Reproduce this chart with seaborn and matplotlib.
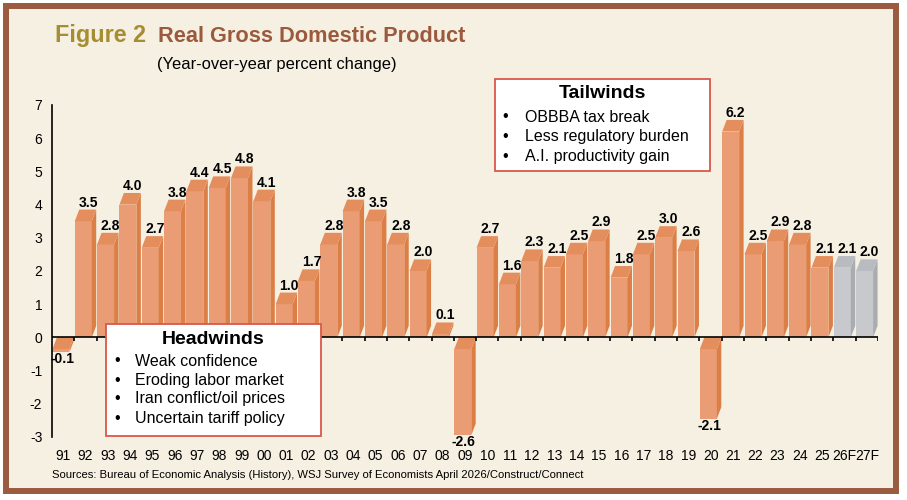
import numpy as np
import pandas as pd
import seaborn as sns
import matplotlib.pyplot as plt
from matplotlib.patches import Rectangle, Polygon

# chart data
years = ['91', '92', '93', '94', '95', '96', '97', '98', '99', '00',
         '01', '02', '03', '04', '05', '06', '07', '08', '09', '10',
         '11', '12', '13', '14', '15', '16', '17', '18', '19', '20',
         '21', '22', '23', '24', '25', '26F', '27F']
gdp = [-0.1, 3.5, 2.8, 4.0, 2.7, 3.8, 4.4, 4.5, 4.8, 4.1,
       1.0, 1.7, 2.8, 3.8, 3.5, 2.8, 2.0, 0.1, -2.6, 2.7,
       1.6, 2.3, 2.1, 2.5, 2.9, 1.8, 2.5, 3.0, 2.6, -2.1,
       6.2, 2.5, 2.9, 2.8, 2.1, 2.1, 2.0]
forecast = ['26F', '27F']
yticks = list(range(-3, 8))

headwinds = ['Weak confidence', 'Eroding labor market',
             'Iran conflict/oil prices', 'Uncertain tariff policy']
tailwinds = ['OBBBA tax break', 'Less regulatory burden', 'A.I. productivity gain']
source_note = ('Sources: Bureau of Economic Analysis (History), '
               'WSJ Survey of Economists April 2026/Construct/Connect')

# colours
BG = '#F5F0E2'
FRAME = '#9A5B40'
GOLD = '#A68D32'
TITLE_BROWN = '#9B5A3D'
BOX_EDGE = '#D9584B'
ORANGE = {'front': '#EA9D74', 'side': '#DC7F47', 'top': '#E48E5D'}
GRAY = {'front': '#C7C9CC', 'side': '#A9ACB0', 'top': '#B8BBBF'}

sns.set_theme(style='white')
plt.rcParams['font.family'] = ['Liberation Sans', 'DejaVu Sans']

W, H = 907, 500
fig = plt.figure(figsize=(W / 100, H / 100), dpi=100)
fig.patch.set_facecolor('white')


def fx(px):
    return px / W


def fy(py):
    return 1 - py / H


# beige panel with brown frame
fig.patches.append(Rectangle((fx(6), fy(491)), fx(896) - fx(6), fy(6) - fy(491),
                             transform=fig.transFigure, fc=BG, ec=FRAME,
                             lw=4.3, zorder=-1))

ax = fig.add_axes([fx(52), fy(437), fx(878) - fx(52), fy(105) - fy(437)])
ax.patch.set_visible(False)

df = pd.DataFrame({'year': years, 'gdp': gdp})
df['kind'] = np.where(df['year'].isin(forecast), 'forecast', 'actual')

sns.barplot(data=df, x='year', y='gdp', hue='kind',
            palette={'actual': ORANGE['front'], 'forecast': GRAY['front']},
            dodge=False, width=0.76, saturation=1, legend=False, ax=ax)

# fake 3D: add side and top faces to each bar
dx, dy = 0.2, 0.35
for p in list(ax.patches):
    v = p.get_height()
    if np.isnan(v) or p.get_width() == 0:
        continue
    x0 = p.get_x() - dx / 2
    p.set_x(x0)
    p.set_edgecolor('none')
    x1 = x0 + p.get_width()
    i = int(round(x0 + p.get_width() / 2 + dx / 2))
    cols = GRAY if years[i] in forecast else ORANGE
    if v < 0:
        p.set_y(-dy)
        yb, yt = v - dy, -dy
    else:
        yb, yt = 0, v
    ax.add_patch(Polygon([(x1, yb), (x1 + dx, yb + dy), (x1 + dx, yt + dy), (x1, yt)],
                         closed=True, fc=cols['side'], ec='none', zorder=2))
    ax.add_patch(Polygon([(x0, yt), (x1, yt), (x1 + dx, yt + dy), (x0 + dx, yt + dy)],
                         closed=True, fc=cols['top'], ec='none', zorder=2))
    if v < 0:
        ax.text(i - 0.05, v - dy, f'{v:.1f}', ha='center', va='top',
                fontsize=10, weight='bold', color='black', clip_on=False)
    else:
        ax.text(i + 0.12, v + dy, f'{v:.1f}', ha='center', va='bottom',
                fontsize=10, weight='bold', color='black', clip_on=False)

# zero line with category ticks
ax.axhline(0, color='black', lw=1.2, zorder=3)
ax.vlines(np.arange(len(years)) + 0.5, -0.12, 0, color='black', lw=1.2, zorder=3)

ax.set_xlim(-0.5, len(years) - 0.5)
ax.set_ylim(-3, 7)
ax.set_yticks(yticks)
ax.set_yticklabels([str(t) for t in yticks])
ax.set_xticks(range(len(years)))
ax.set_xticklabels(years)
ax.tick_params(axis='y', length=0, pad=7, labelsize=10, colors='black')
ax.tick_params(axis='x', length=0, pad=9, labelsize=10, colors='black')
ax.set_xlabel('')
ax.set_ylabel('')
for s in ['top', 'right', 'bottom']:
    ax.spines[s].set_visible(False)
ax.spines['left'].set_color('black')
ax.spines['left'].set_linewidth(1.2)

# titles
fig.text(fx(55), fy(42), 'Figure 2', color=GOLD, weight='bold', fontsize=16.8, va='baseline')
fig.text(fx(158), fy(42), 'Real Gross Domestic Product', color=TITLE_BROWN,
         weight='bold', fontsize=15.7, va='baseline')
fig.text(fx(157), fy(64), '(Year-over-year percent change)', fontsize=11.9,
         va='center', color='black')


def note_box(left, top, right, bottom, title, items, title_y, bullet_x, text_x, line_ys):
    fig.patches.append(Rectangle((fx(left), fy(bottom)), fx(right) - fx(left),
                                 fy(top) - fy(bottom), transform=fig.transFigure,
                                 fc='white', ec=BOX_EDGE, lw=1.3, zorder=2))
    fig.text(fx((left + right) / 2), fy(title_y), title, ha='center', va='center',
             weight='bold', fontsize=14, color='black', zorder=3)
    for item, yy in zip(items, line_ys):
        fig.text(fx(bullet_x), fy(yy), '\u2022', ha='center', va='center',
                 fontsize=11.5, color='black', zorder=3)
        fig.text(fx(text_x), fy(yy), item, ha='left', va='center',
                 fontsize=11.5, color='black', zorder=3)


note_box(106, 324, 321, 436, 'Headwinds', headwinds, 339, 117, 135, [361, 380, 399, 418])
note_box(495, 79, 710, 171, 'Tailwinds', tailwinds, 94, 505, 525, [117, 137, 156])

fig.text(fx(52), fy(475), source_note, fontsize=8.1, va='center', color='black')

fig.savefig('out.png', dpi=100, facecolor='white')
